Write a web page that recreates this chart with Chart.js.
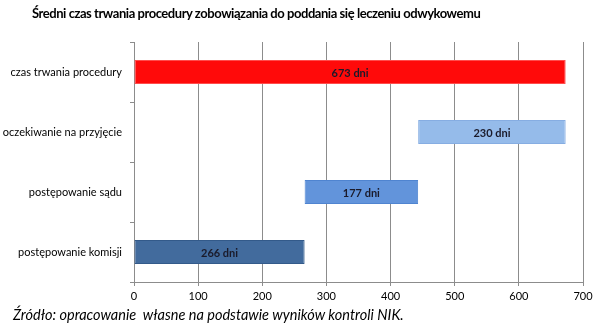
<!DOCTYPE html>
<html>
<head>
<meta charset="utf-8">
<script src="https://cdn.jsdelivr.net/npm/chart.js@4"></script>
<style>
    body { margin: 0; background: #fff; }
    #wrap { position: relative; width: 600px; height: 326px; }
    #title {
        position: absolute; left: 32px; top: 5px; letter-spacing: -0.45px;
        font: bold 13px Lato, "Open Sans", sans-serif; color: #000; white-space: nowrap;
    }
    #source {
        position: absolute; left: 13px; top: 306px;
        font: italic 14.5px Lato, "Open Sans", sans-serif; color: #000; white-space: nowrap;
    }
</style>
</head>
<body>
<div id="wrap">
    <canvas id="chart" width="600" height="326"></canvas>
    <div id="title">Średni czas trwania procedury zobowiązania do poddania się leczeniu odwykowemu</div>
    <div id="source">Źródło: opracowanie &nbsp;własne na podstawie wyników kontroli NIK.</div>
</div>
<script>
// categories, top to bottom
let categories = ["czas trwania procedury", "oczekiwanie na przyjęcie", "postępowanie sądu", "postępowanie komisji"];
// where each bar starts and how many days it lasts
let starts = [0, 443, 266, 0];
let days = [673, 230, 177, 266];
let colors = ["#ff0a0a", "#95bbea", "#6294db", "#426b9d"];
let borders = ["#ff4d4d", "#86ade2", "#4f84d0", "#335a8a"];

let ranges = starts.map((s, i) => [s, s + days[i]]);

// writes "xxx dni" in the middle of each bar
const barText = {
    id: "barText",
    afterDatasetsDraw(chart) {
        const ctx = chart.ctx;
        const meta = chart.getDatasetMeta(0);
        ctx.save();
        ctx.font = "bold 11px Lato, 'Open Sans', sans-serif";
        ctx.fillStyle = "#1a1a2a";
        ctx.textAlign = "center";
        ctx.textBaseline = "middle";
        meta.data.forEach((bar, i) => {
            const p = bar.getProps(["x", "y", "base"], true);
            ctx.fillText(days[i] + " dni", (p.x + p.base) / 2, p.y + 1);
        });
        ctx.restore();
    }
};

new Chart(document.getElementById("chart"), {
    type: "bar",
    data: {
        labels: categories,
        datasets: [{
            data: ranges,
            backgroundColor: colors,
            borderColor: borders,
            borderWidth: 1,
            borderSkipped: false,
            barPercentage: 0.4,
            categoryPercentage: 1
        }]
    },
    options: {
        indexAxis: "y",
        responsive: false,
        animation: false,
        layout: { padding: { top: 42, right: 17, left: 0, bottom: 0 } },
        plugins: {
            legend: { display: false },
            tooltip: { enabled: false }
        },
        scales: {
            x: {
                min: 0,
                max: 700,
                ticks: { stepSize: 100, color: "#000", font: { size: 11, family: "Lato" }, padding: 4 },
                grid: { color: "#8c8c8c", tickLength: 4, tickColor: "#8c8c8c" },
                border: { color: "#8c8c8c" },
                afterFit: s => { s.height = 44; }
            },
            y: {
                ticks: { color: "#000", font: { size: 11, family: "Lato" }, padding: 8 },
                grid: { drawOnChartArea: false, tickLength: 4, tickColor: "#8c8c8c" },
                border: { color: "#8c8c8c" },
                afterFit: s => { s.width = 134; }
            }
        }
    },
    plugins: [barText]
});
</script>
</body>
</html>
